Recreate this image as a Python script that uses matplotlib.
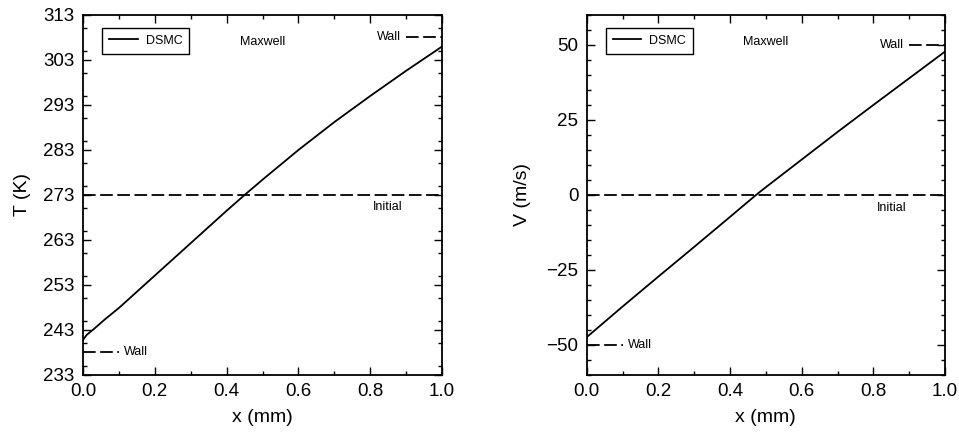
import matplotlib.pyplot as plt
from matplotlib.ticker import MultipleLocator

plt.rcParams['font.family'] = ['Liberation Sans', 'DejaVu Sans']

# DSMC profiles across the gap (x in mm)
x_temp = [0.0, 0.01, 0.03, 0.06, 0.1, 0.2, 0.3, 0.4, 0.45, 0.5, 0.6,
          0.7, 0.8, 0.9, 0.98, 1.0]
temp_dsmc = [240.8, 241.9, 243.2, 245.3, 247.9, 255.1, 262.3, 269.5,
             273.0, 276.4, 283.0, 289.2, 295.0, 300.6, 304.9, 306.0]

x_vel = [0.0, 0.1, 0.2, 0.3, 0.4, 0.4725, 0.5, 0.6, 0.7, 0.8, 0.9, 1.0]
vel_dsmc = [-47.4, -37.2, -27.2, -17.3, -7.3, 0.0, 2.6, 11.8, 21.0,
            30.0, 38.9, 47.8]

# wall and initial values
temp_walls = [238, 308]
temp_init = 273
vel_walls = [-50, 50]
vel_init = 0

fig = plt.figure(figsize=(9.59, 4.32), dpi=100)
ax1 = fig.add_axes([0.0866, 0.132, 0.3743, 0.8333])
ax2 = fig.add_axes([0.6118, 0.132, 0.3736, 0.8333])

dash = (7, 2.5)


def setup(ax):
    ax.set_xlim(0, 1)
    ax.xaxis.set_major_locator(MultipleLocator(0.2))
    ax.xaxis.set_minor_locator(MultipleLocator(0.1))
    ax.xaxis.set_major_formatter(plt.FormatStrFormatter('%.1f'))
    ax.tick_params(which='both', direction='in', top=True, right=True,
                   width=1.0, labelsize=13.5, pad=6)
    ax.tick_params(which='major', length=6)
    ax.tick_params(which='minor', length=3)
    for s in ax.spines.values():
        s.set_linewidth(1.3)
    ax.set_xlabel('x (mm)', fontsize=14, labelpad=6)


# Temperature
ax1.plot(x_temp, temp_dsmc, color='black', lw=1.3, label='DSMC')
ax1.axhline(temp_init, color='black', lw=1.3, dashes=dash)
ax1.plot([0, 0.1], [temp_walls[0]] * 2, color='black', lw=1.3, dashes=dash)
ax1.plot([0.9, 1.0], [temp_walls[1]] * 2, color='black', lw=1.3, dashes=dash)
ax1.set_ylim(233, 313)
ax1.set_yticks(range(233, 314, 10))
ax1.yaxis.set_minor_locator(MultipleLocator(5))
setup(ax1)
ax1.set_ylabel('T (K)', fontsize=14, labelpad=9)
ax1.text(0.115, temp_walls[0], 'Wall', fontsize=9, va='center', ha='left')
ax1.text(0.885, temp_walls[1], 'Wall', fontsize=9, va='center', ha='right')
ax1.text(0.5, 307.0, 'Maxwell', fontsize=9, va='center', ha='center')
ax1.text(0.85, 270.4, 'Initial', fontsize=9, va='center', ha='center')

# Velocity
ax2.plot(x_vel, vel_dsmc, color='black', lw=1.3, label='DSMC')
ax2.axhline(vel_init, color='black', lw=1.3, dashes=dash)
ax2.plot([0, 0.1], [vel_walls[0]] * 2, color='black', lw=1.3, dashes=dash)
ax2.plot([0.9, 1.0], [vel_walls[1]] * 2, color='black', lw=1.3, dashes=dash)
ax2.set_ylim(-60, 60)
ax2.set_yticks([-50, -25, 0, 25, 50])
ax2.yaxis.set_minor_locator(MultipleLocator(5))
setup(ax2)
ax2.set_ylabel('V (m/s)', fontsize=14, labelpad=11)
ax2.text(0.115, vel_walls[0], 'Wall', fontsize=9, va='center', ha='left')
ax2.text(0.885, vel_walls[1], 'Wall', fontsize=9, va='center', ha='right')
ax2.text(0.5, 51.0, 'Maxwell', fontsize=9, va='center', ha='center')
ax2.text(0.85, -4.2, 'Initial', fontsize=9, va='center', ha='center')

for ax in (ax1, ax2):
    leg = ax.legend(loc='upper left', bbox_to_anchor=(0.053, 0.964),
                    borderaxespad=0, fontsize=9, fancybox=False,
                    framealpha=1, edgecolor='black', handlelength=2.3,
                    borderpad=0.55, handletextpad=0.65)
    leg.get_frame().set_linewidth(1.0)

fig.savefig('out.png', dpi=100)
